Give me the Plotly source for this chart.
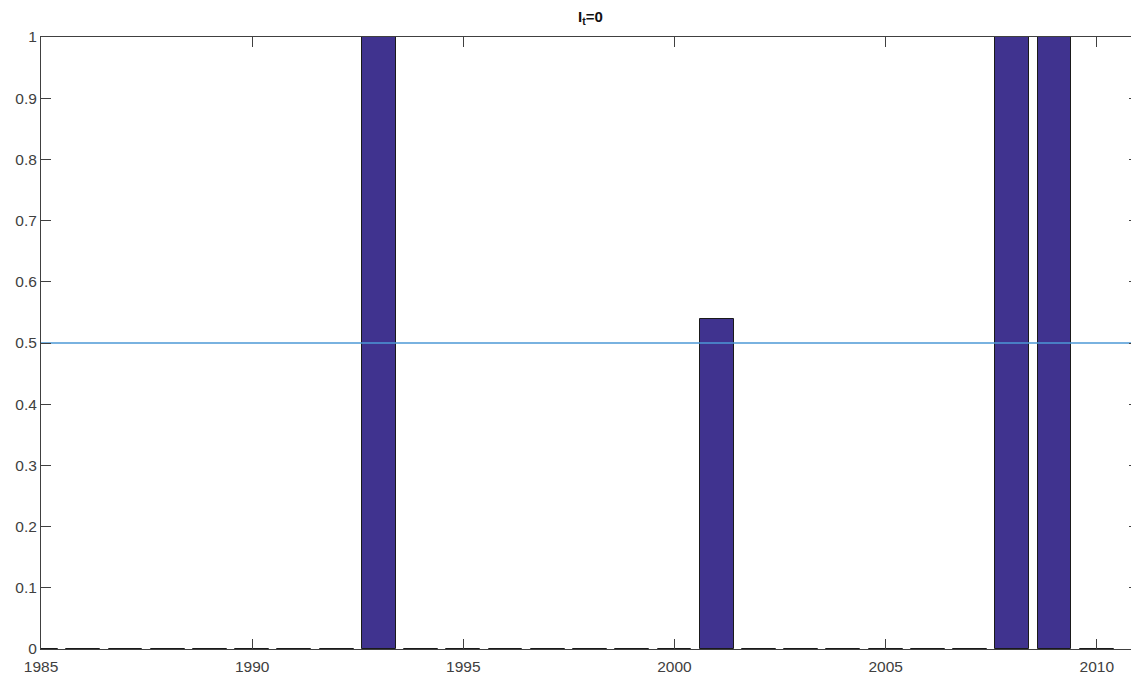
import plotly.graph_objects as go

years = list(range(1985, 2011))
values = [0, 0, 0, 0, 0, 0, 0, 0, 1, 0, 0, 0, 0, 0, 0, 0, 0.54, 0, 0, 0, 0, 0, 0, 1, 1, 0]
threshold = 0.5
x_ticks = [1985, 1990, 1995, 2000, 2005, 2010]
y_ticks = [0, 0.1, 0.2, 0.3, 0.4, 0.5, 0.6, 0.7, 0.8, 0.9, 1]
title_text = "I<sub>t</sub>=0"

fig = go.Figure()
fig.add_trace(go.Bar(
    x=years, y=values, width=0.8,
    marker=dict(color="#40338f", line=dict(color="#1a1a1a", width=1)),
    showlegend=False,
))
fig.add_trace(go.Scatter(
    x=[1985, 2011], y=[threshold, threshold], mode="lines",
    line=dict(color="#4d99d6", width=1.3), showlegend=False,
))

font_family = "Liberation Sans, Arial, sans-serif"
axis_common = dict(
    showgrid=False, zeroline=False, showline=True, linecolor="#404040", linewidth=1,
    mirror="ticks", ticks="inside", ticklen=10, tickcolor="#404040", tickwidth=1,
    tickfont=dict(family=font_family, size=15.5, color="#404040"),
)
fig.update_xaxes(range=[1985, 2011], tickvals=x_ticks, ticktext=[str(v) for v in x_ticks],
                 ticklabelstandoff=3, **axis_common)
fig.update_yaxes(range=[0, 1], tickvals=y_ticks, ticktext=[f"{v:g}" for v in y_ticks], **axis_common)

fig.update_layout(
    width=1139, height=678,
    margin=dict(l=32, r=7, t=29, b=37, pad=0),
    plot_bgcolor="white", paper_bgcolor="white",
    bargap=0,
)
fig.add_annotation(
    text="<b>" + title_text + "</b>", xref="paper", yref="paper", x=0.5, y=1,
    xanchor="center", yanchor="middle", yshift=20, showarrow=False,
    font=dict(family=font_family, size=15, color="#111111"),
)
fig.write_html("out.html")
